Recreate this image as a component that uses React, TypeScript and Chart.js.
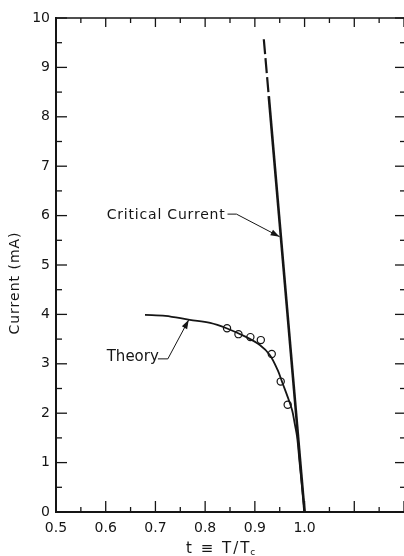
import { useEffect, useRef } from 'react';
import { Chart, registerables } from 'chart.js';
Chart.register(...registerables);

// Theory curve
const theoryT = [0.679, 0.72, 0.769, 0.81, 0.843, 0.883, 0.91, 0.93, 0.946, 0.956, 0.966, 0.975, 0.98, 0.985, 0.99, 0.995, 1.0];
const theoryI = [3.99, 3.97, 3.89, 3.83, 3.72, 3.54, 3.38, 3.18, 2.87, 2.6, 2.33, 2.06, 1.8, 1.52, 1.0, 0.5, 0];

// Measured points (open circles)
const measuredT = [0.844, 0.867, 0.891, 0.912, 0.934, 0.952, 0.966];
const measuredI = [3.72, 3.6, 3.54, 3.48, 3.2, 2.64, 2.17];

// Critical current line: solid part and dashed extrapolation
const critSolidT = [0.928, 1.0];
const critSolidI = [8.42, 0];
const critDashT = [0.918, 0.928];
const critDashI = [9.57, 8.42];

// Ticks
const xMajor = [0.5, 0.6, 0.7, 0.8, 0.9, 1.0, 1.1, 1.2];
const xMinor = [0.55, 0.65, 0.75, 0.85, 0.95, 1.05, 1.15];
const xLabels = ['0.5', '0.6', '0.7', '0.8', '0.9', '1.0', '', ''];
const yMajor = [0, 1, 2, 3, 4, 5, 6, 7, 8, 9, 10];
const yMinor = [0.5, 1.5, 2.5, 3.5, 4.5, 5.5, 6.5, 7.5, 8.5, 9.5];
const yLabels = ['0', '1', '2', '3', '4', '5', '6', '7', '8', '9', '10'];

const pts = (xs: number[], ys: number[]) => xs.map((x, i) => ({ x, y: ys[i] }));

const INK = '#151515';

function arrowHead(ctx: CanvasRenderingContext2D, fx: number, fy: number, tx: number, ty: number) {
  const ang = Math.atan2(ty - fy, tx - fx);
  const len = 9, hw = 3;
  ctx.beginPath();
  ctx.moveTo(tx, ty);
  ctx.lineTo(tx - len * Math.cos(ang) + hw * Math.sin(ang), ty - len * Math.sin(ang) - hw * Math.cos(ang));
  ctx.lineTo(tx - len * Math.cos(ang) - hw * Math.sin(ang), ty - len * Math.sin(ang) + hw * Math.cos(ang));
  ctx.closePath();
  ctx.fill();
}

const framePlugin = {
  id: 'frame',
  afterDraw(chart: any) {
    const { ctx, chartArea: a, scales } = chart;
    const x = scales.x, y = scales.y;
    ctx.save();
    ctx.strokeStyle = INK;
    ctx.fillStyle = INK;
    const seg = (x1: number, y1: number, x2: number, y2: number) => {
      ctx.beginPath(); ctx.moveTo(x1, y1); ctx.lineTo(x2, y2); ctx.stroke();
    };
    ctx.lineWidth = 1.5;
    seg(a.left, a.top, a.right, a.top);
    ctx.lineWidth = 1.3;
    xMajor.forEach(v => { const p = x.getPixelForValue(v); seg(p, a.bottom, p, a.bottom - 11); seg(p, a.top, p, a.top + 9); });
    xMinor.forEach(v => { const p = x.getPixelForValue(v); seg(p, a.bottom, p, a.bottom - 5); seg(p, a.top, p, a.top + 5); });
    yMajor.forEach(v => { const p = y.getPixelForValue(v); seg(a.left, p, a.left + 11, p); seg(a.right, p, a.right - 9, p); });
    yMinor.forEach(v => { const p = y.getPixelForValue(v); seg(a.left, p, a.left + 6, p); seg(a.right, p, a.right - 4, p); });

    // Annotations
    ctx.lineWidth = 1;
    ctx.font = '14px "DejaVu Sans"';
    ctx.textBaseline = 'middle';
    ctx.textAlign = 'left';
    (ctx as any).letterSpacing = '0.8px';
    ctx.fillText('Critical Current', x.getPixelForValue(0.602), y.getPixelForValue(6.01));
    (ctx as any).letterSpacing = '0px';
    let p1 = [x.getPixelForValue(0.845), y.getPixelForValue(6.03)];
    let p2 = [x.getPixelForValue(0.863), y.getPixelForValue(6.03)];
    let p3 = [x.getPixelForValue(0.9498), y.getPixelForValue(5.573)];
    ctx.beginPath(); ctx.moveTo(p1[0], p1[1]); ctx.lineTo(p2[0], p2[1]); ctx.lineTo(p3[0], p3[1]); ctx.stroke();
    arrowHead(ctx, p2[0], p2[1], p3[0], p3[1]);

    ctx.font = '15px "DejaVu Sans"';
    ctx.fillText('Theory', x.getPixelForValue(0.602), y.getPixelForValue(3.14));
    ctx.font = '14px "DejaVu Sans"';
    p1 = [x.getPixelForValue(0.705), y.getPixelForValue(3.1)];
    p2 = [x.getPixelForValue(0.725), y.getPixelForValue(3.1)];
    p3 = [x.getPixelForValue(0.767), y.getPixelForValue(3.89)];
    ctx.beginPath(); ctx.moveTo(p1[0], p1[1]); ctx.lineTo(p2[0], p2[1]); ctx.lineTo(p3[0], p3[1]); ctx.stroke();
    arrowHead(ctx, p2[0], p2[1], p3[0], p3[1]);

    // Axis titles
    ctx.save();
    ctx.translate(15, 283);
    ctx.rotate(-Math.PI / 2);
    ctx.textAlign = 'center';
    (ctx as any).letterSpacing = '1px';
    ctx.fillText('Current (mA)', 0, 0);
    ctx.restore();

    ctx.font = '15px "DejaVu Sans"';
    (ctx as any).letterSpacing = '2px';
    ctx.textAlign = 'left';
    const tx = 186, ty = 549;
    ctx.fillText('t \u2261 T/T', tx, ty);
    const w = ctx.measureText('t \u2261 T/T').width;
    ctx.font = '9px "DejaVu Sans"';
    (ctx as any).letterSpacing = '0px';
    ctx.fillText('c', tx + w - 1, ty + 4);
    ctx.restore();
  },
};

export default function App() {
  const ref = useRef<HTMLCanvasElement>(null);
  useEffect(() => {
    document.body.style.margin = '0';
    const canvas = ref.current!;
    const chart = new Chart(canvas, {
      type: 'scatter',
      data: {
        datasets: [
          {
            data: pts(theoryT, theoryI), showLine: true, borderColor: INK, borderWidth: 1.8,
            pointRadius: 0, tension: 0.35,
          } as any,
          {
            data: pts(critSolidT, critSolidI), showLine: true, borderColor: INK, borderWidth: 2.6, pointRadius: 0,
          },
          {
            data: pts(critDashT, critDashI), showLine: true, borderColor: INK, borderWidth: 2.2, pointRadius: 0,
            borderDash: [15, 4],
          },
          {
            data: pts(measuredT, measuredI), showLine: false, pointRadius: 3.6, pointBorderWidth: 1.2,
            pointBackgroundColor: '#fff', pointBorderColor: INK,
          },
        ],
      },
      options: {
        responsive: false,
        animation: false,
        layout: { autoPadding: false, padding: { top: 18, right: 0, left: 0, bottom: 0 } },
        plugins: { legend: { display: false }, tooltip: { enabled: false } },
        scales: {
          x: {
            type: 'linear', min: 0.5, max: 1.2,
            afterBuildTicks: (s: any) => { s.ticks = xMajor.map(v => ({ value: v })); },
            afterFit: (s: any) => { s.height = 44; s.paddingLeft = 0; s.paddingRight = 0; },
            grid: { display: false, drawTicks: false },
            border: { display: true, color: INK, width: 2 },
            ticks: {
              color: INK, padding: 8, maxRotation: 0, autoSkip: false,
              font: { family: 'DejaVu Sans', size: 14 },
              callback: (v: any) => { const i = xMajor.findIndex(m => Math.abs(m - v) < 1e-6); return i >= 0 ? xLabels[i] : ''; },
            },
          },
          y: {
            type: 'linear', min: 0, max: 10,
            afterBuildTicks: (s: any) => { s.ticks = yMajor.map(v => ({ value: v })); },
            afterFit: (s: any) => { s.width = 56; s.paddingTop = 0; s.paddingBottom = 0; },
            grid: { display: false, drawTicks: false },
            border: { display: true, color: INK, width: 2 },
            ticks: {
              color: INK, padding: 6, autoSkip: false,
              font: { family: 'DejaVu Sans', size: 14 },
              callback: (v: any) => { const i = yMajor.findIndex(m => Math.abs(m - v) < 1e-6); return i >= 0 ? yLabels[i] : ''; },
            },
          },
        },
      },
      plugins: [framePlugin],
    });
    return () => chart.destroy();
  }, []);
  return <canvas ref={ref} width={404} height={556} style={{ display: 'block', width: 404, height: 556 }} />;
}
